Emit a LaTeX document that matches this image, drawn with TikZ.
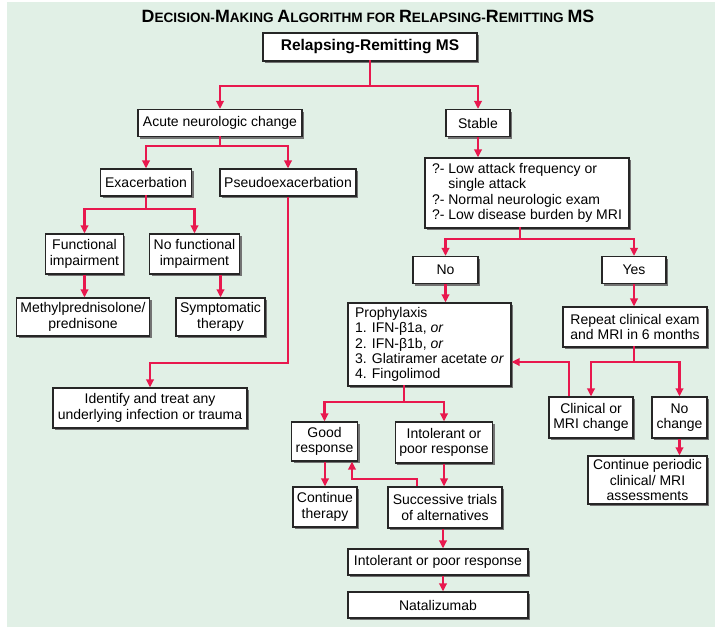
\documentclass[tikz,border=0pt]{standalone}
\usepackage{fontspec}
\setmainfont{Liberation Sans}
\usepackage{tikz}
\usetikzlibrary{arrows.meta,positioning,shadows}
\definecolor{bggreen}{RGB}{225,240,230}
\definecolor{flowred}{RGB}{232,24,78}
\newcommand{\tcap}[1]{{\fontsize{17.8}{18}\selectfont #1}}

\begin{document}
\begin{tikzpicture}[x=1pt, y=-1pt,
    every node/.style={font=\fontsize{14}{15.4}\selectfont},
    box/.style={draw=black!85, line width=1.2pt, fill=white, align=center, inner xsep=4pt, inner ysep=2pt,
      drop shadow={shadow xshift=2.2pt, shadow yshift=-2.2pt, fill=black!55, opacity=1}},
    arr/.style={draw=flowred, line width=2.6pt, -{Triangle[width=7.5pt,length=8pt]}},
    link/.style={draw=flowred, line width=2.6pt, line cap=rect}
  ]
  \useasboundingbox (0,0) rectangle (715,627);
  \fill[bggreen] (7,2) rectangle (715,627);

  \node[font=\bfseries\fontsize{13.6}{18}\selectfont] (title) at (368,16.5)
    {\tcap{D}ECISION-\tcap{M}AKING \tcap{A}LGORITHM FOR \tcap{R}ELAPSING-\tcap{R}EMITTING \tcap{MS}};
  \node[box, minimum width=214pt, minimum height=28pt, font=\bfseries\fontsize{15.5}{17}\selectfont] (rrms) at (370,47) {Relapsing-Remitting MS};

  \node[box, minimum width=164pt, minimum height=27pt] (acute) at (220,123) {Acute neurologic change};
  \node[box, minimum width=64pt, minimum height=27pt] (stable) at (478,123) {Stable};
  \node[box, minimum width=91pt, minimum height=27pt] (exac) at (146,182.5) {Exacerbation};
  \node[box, minimum width=136pt, minimum height=27pt] (pseudo) at (288,182.5) {Pseudoexacerbation};
  \node[box, minimum width=77pt, minimum height=40pt] (funct) at (84.5,254) {Functional\\impairment};
  \node[box, minimum width=89pt, minimum height=40pt] (nofunct) at (194.5,254) {No functional\\impairment};
  \node[box, minimum width=132pt, minimum height=38pt] (methyl) at (83,317) {Methylprednisolone/\\prednisone};
  \node[box, minimum width=89pt, minimum height=38pt] (sympt) at (220.5,317) {Symptomatic\\therapy};
  \node[box, minimum width=194pt, minimum height=40pt] (identify) at (150,408) {Identify and treat any\\underlying infection or trauma};

  \node[box, align=left, minimum width=204pt, minimum height=70pt] (crit) at (527,193)
    {?- Low attack frequency or\\\hphantom{?- }single attack\\?- Normal neurologic exam\\?- Low disease burden by MRI};
  \node[box, minimum width=65pt, minimum height=27pt] (no) at (445.5,270) {No};
  \node[box, minimum width=64pt, minimum height=27pt] (yes) at (634,270) {Yes};
  \node[box, align=left, minimum width=163pt, minimum height=83pt] (proph) at (429.5,344.5)
    {Prophylaxis\\1. IFN-β1a, \textit{or}\\2. IFN-β1b, \textit{or}\\3. Glatiramer acetate \textit{or}\\4. Fingolimod};
  \node[box, minimum width=144pt, minimum height=40pt] (repeat) at (635,327) {Repeat clinical exam\\and MRI in 6 months};
  \node[box, minimum width=84pt, minimum height=41pt] (clin) at (591,417.5) {Clinical or\\MRI change};
  \node[box, minimum width=55pt, minimum height=41pt] (nochange) at (679.5,417.5) {No\\change};
  \node[box, minimum width=119pt, minimum height=48pt] (contper) at (647.5,480) {Continue periodic\\clinical/ MRI\\assessments};

  \node[box, minimum width=65pt, minimum height=39pt] (good) at (324.5,441.5) {Good\\response};
  \node[box, minimum width=96pt, minimum height=41pt] (intol1) at (444,442.5) {Intolerant or\\poor response};
  \node[box, minimum width=64pt, minimum height=40pt] (contther) at (325,507) {Continue\\therapy};
  \node[box, minimum width=114pt, minimum height=41pt] (succ) at (445,507.5) {Successive trials\\of alternatives};
  \node[box, minimum width=180pt, minimum height=26pt] (intol2) at (438,562) {Intolerant or poor response};
  \node[box, minimum width=180pt, minimum height=26pt] (natal) at (438,605) {Natalizumab};

  \coordinate (j1) at (370,86);
  \draw[link] (rrms) -- (j1);
  \draw[arr] (j1) -| (acute);
  \draw[arr] (j1) -| (stable);
  \coordinate (j2) at (220,146);
  \draw[link] (acute) -- (j2);
  \draw[arr] (j2) -| (exac);
  \draw[arr] (j2) -| (pseudo);
  \coordinate (j3) at (146,209);
  \draw[link] (exac) -- (j3);
  \draw[arr] (j3) -| (funct);
  \draw[arr] (j3) -| (nofunct);
  \draw[arr] (funct.south) -- (funct.south |- methyl.north);
  \draw[arr] (nofunct.south -| sympt) -- (sympt);
  \draw[arr] (pseudo.south) -- (pseudo.south |- 0,363) -| (identify);

  \draw[arr] (stable) -- (stable |- crit.north);
  \coordinate (j5) at (520,239);
  \draw[link] (crit.south -| j5) -- (j5);
  \draw[arr] (j5) -| (no);
  \draw[arr] (j5) -| (yes);
  \draw[arr] (no) -- (no |- proph.north);
  \draw[arr] (yes) -- (yes |- repeat.north);
  \coordinate (j6) at (634,362);
  \draw[link] (repeat.south -| j6) -- (j6);
  \draw[arr] (j6) -| (clin);
  \draw[arr] (j6) -| (nochange);
  \draw[arr] (clin.north -| 569,0) |- (proph.east |- j6);
  \draw[arr] (nochange) -- (nochange |- contper.north);

  \coordinate (j7) at (404,402);
  \draw[link] (proph.south -| j7) -- (j7);
  \draw[arr] (j7) -| (good);
  \draw[arr] (j7) -| (intol1);
  \draw[arr] (good.south -| contther) -- (contther);
  \draw[arr] (intol1) -- (intol1 |- succ.north);
  \draw[arr] (succ.north -| 417,0) |- (352,479) -- (good.south -| 352,0);
  \draw[arr] (succ.south -| 443,0) -- (443,0 |- intol2.north);
  \draw[arr] (intol2.south -| 443,0) -- (443,0 |- natal.north);
\end{tikzpicture}
\end{document}
